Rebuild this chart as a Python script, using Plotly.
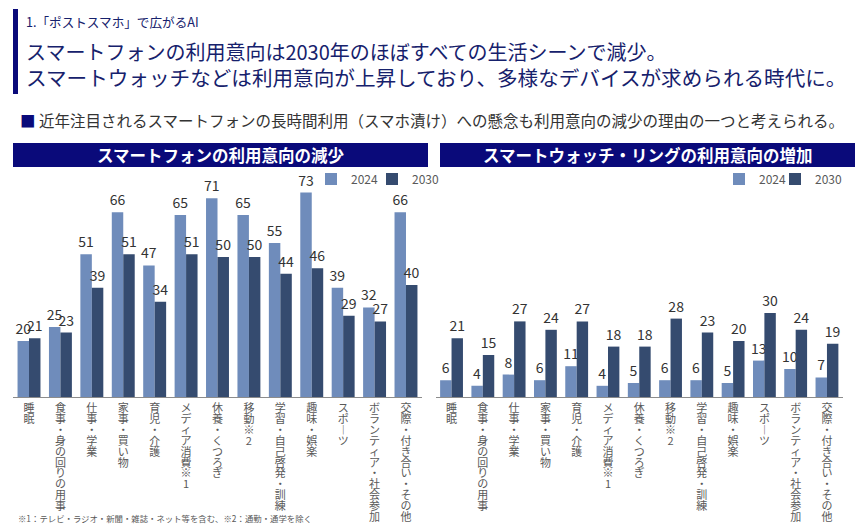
import plotly.graph_objects as go

categories = ["睡眠", "食事・身の回りの用事", "仕事・学業", "家事・買い物", "育児・介護",
              "メディア消費※1", "休養・くつろぎ", "移動※2", "学習・自己啓発・訓練",
              "趣味・娯楽", "スポーツ", "ボランティア・社会参加", "交際・付き合い・その他"]
series_names = ["2024", "2030"]
phone_2024 = [20, 25, 51, 66, 47, 65, 71, 65, 55, 73, 39, 32, 66]
phone_2030 = [21, 23, 39, 51, 34, 51, 50, 50, 44, 46, 29, 27, 40]
watch_2024 = [6, 4, 8, 6, 11, 4, 5, 6, 6, 5, 13, 10, 7]
watch_2030 = [21, 15, 27, 24, 27, 18, 18, 28, 23, 20, 30, 24, 19]

kicker = "1.「ポストスマホ」で広がるAI"
headline1 = "スマートフォンの利用意向は2030年のほぼすべての生活シーンで減少。"
headline2 = "スマートウォッチなどは利用意向が上昇しており、多様なデバイスが求められる時代に。"
bullet = "近年注目されるスマートフォンの長時間利用（スマホ漬け）への懸念も利用意向の減少の理由の一つと考えられる。"
left_title = "スマートフォンの利用意向の減少"
right_title = "スマートウォッチ・リングの利用意向の増加"
footnote = "※1：テレビ・ラジオ・新聞・雑誌・ネット等を含む、※2：通勤・通学を除く"

W, H = 860, 531
C24 = "#6F8CBB"
C30 = "#354B6F"
NAVY = "#0A0A7A"
HEAD = "#16216C"
FONT = "Noto Sans CJK JP"
PITCH = 10.9          # vertical distance between stacked characters
GLYPH = 11            # glyph size of the stacked characters


def px(x):
    return x / W


def py(y):
    return 1 - y / H


def vertical(label):
    # tategaki-style: one upright character per line
    chars = ["︱" if c == "ー" else c for c in label]
    return "<br>".join(f"<span style='font-size:{GLYPH}px'>{c}</span>" for c in chars)


vertical_ticks = [vertical(c) for c in categories]

fig = go.Figure()

for vals, name, color, xa, ya, lg in [
    (phone_2024, series_names[0], C24, "x", "y", "legend"),
    (phone_2030, series_names[1], C30, "x", "y", "legend2"),
    (watch_2024, series_names[0], C24, "x2", "y2", "legend3"),
    (watch_2030, series_names[1], C30, "x2", "y2", "legend4"),
]:
    fig.add_trace(go.Bar(
        x=categories, y=vals, name=name, marker=dict(color=color, line=dict(width=0)),
        xaxis=xa, yaxis=ya, legend=lg,
        text=vals, textposition="outside", constraintext="none", cliponaxis=False,
        textfont=dict(size=14, color="#333333", family=FONT), textangle=0,
        hoverinfo="skip",
    ))

ymax = 212 / 2.8
xaxis_common = dict(tickmode="array", tickvals=categories, ticktext=vertical_ticks,
                    tickangle=0, ticks="", ticklen=0, ticklabelstandoff=4,
                    showline=True, linecolor="#8C8C8C",
                    linewidth=1, showgrid=False, fixedrange=True, automargin=False,
                    tickfont=dict(size=PITCH / 1.3, color="#595959", family=FONT))
legend_common = dict(orientation="h", yanchor="middle", xanchor="left",
                     font=dict(size=12, color="#595959", family=FONT),
                     bgcolor="rgba(0,0,0,0)", itemclick=False, itemdoubleclick=False,
                     itemwidth=30)
fig.update_layout(
    width=W, height=H, margin=dict(l=0, r=0, t=0, b=0, autoexpand=False),
    paper_bgcolor="white", plot_bgcolor="white",
    font=dict(family=FONT, color="#333333"),
    barmode="group", bargap=0.27, bargroupgap=0,
    xaxis=dict(domain=[px(13.3), px(421.7)], anchor="y", **xaxis_common),
    yaxis=dict(domain=[py(397), py(185)], range=[0, ymax], visible=False, fixedrange=True),
    xaxis2=dict(domain=[px(435.9), px(842.6)], anchor="y2", **xaxis_common),
    yaxis2=dict(domain=[py(397), py(185)], range=[0, ymax], visible=False, fixedrange=True),
    legend=dict(x=px(311), y=py(179), **legend_common),
    legend2=dict(x=px(372), y=py(179), **legend_common),
    legend3=dict(x=px(719), y=py(179), **legend_common),
    legend4=dict(x=px(775), y=py(179), **legend_common),
    showlegend=True,
)

shapes = [
    dict(type="rect", xref="paper", yref="paper", x0=px(13), x1=px(18), y0=py(94), y1=py(9),
         fillcolor=NAVY, line=dict(width=0)),
    dict(type="rect", xref="paper", yref="paper", x0=px(13), x1=px(428), y0=py(167), y1=py(143),
         fillcolor=NAVY, line=dict(width=0)),
    dict(type="rect", xref="paper", yref="paper", x0=px(440), x1=px(855), y0=py(167), y1=py(143),
         fillcolor=NAVY, line=dict(width=0)),
]
fig.update_layout(shapes=shapes)

ann = []
ann.append(dict(text=kicker, x=px(24), y=py(22), xref="paper", yref="paper", xanchor="left",
                yanchor="middle", showarrow=False, font=dict(size=12.6, color=HEAD, family=FONT)))
ann.append(dict(text=headline1, x=px(24), y=py(51), xref="paper", yref="paper", xanchor="left",
                yanchor="middle", showarrow=False, font=dict(size=20, color=HEAD, family=FONT)))
ann.append(dict(text=headline2, x=px(24), y=py(77), xref="paper", yref="paper", xanchor="left",
                yanchor="middle", showarrow=False, font=dict(size=20.6, color=HEAD, family=FONT)))
ann.append(dict(text=f"<span style='color:{NAVY}'>■</span> " + bullet, x=px(18), y=py(120),
                xref="paper", yref="paper", xanchor="left", yanchor="middle", showarrow=False,
                font=dict(size=15.5, color="#333333", family=FONT)))
ann.append(dict(text=f"<b>{left_title}</b>", x=px(220.5), y=py(155), xref="paper", yref="paper",
                xanchor="center", yanchor="middle", showarrow=False,
                font=dict(size=16.5, color="white", family=FONT)))
ann.append(dict(text=f"<b>{right_title}</b>", x=px(647.5), y=py(155), xref="paper", yref="paper",
                xanchor="center", yanchor="middle", showarrow=False,
                font=dict(size=16.5, color="white", family=FONT)))
ann.append(dict(text=footnote, x=px(16), y=py(518), xref="paper", yref="paper", xanchor="left",
                yanchor="middle", showarrow=False, font=dict(size=8.4, color="#595959", family=FONT)))

fig.update_layout(annotations=ann)
fig.write_html("out.html", config={"displayModeBar": False},
               post_script="document.body.style.margin='0';")
